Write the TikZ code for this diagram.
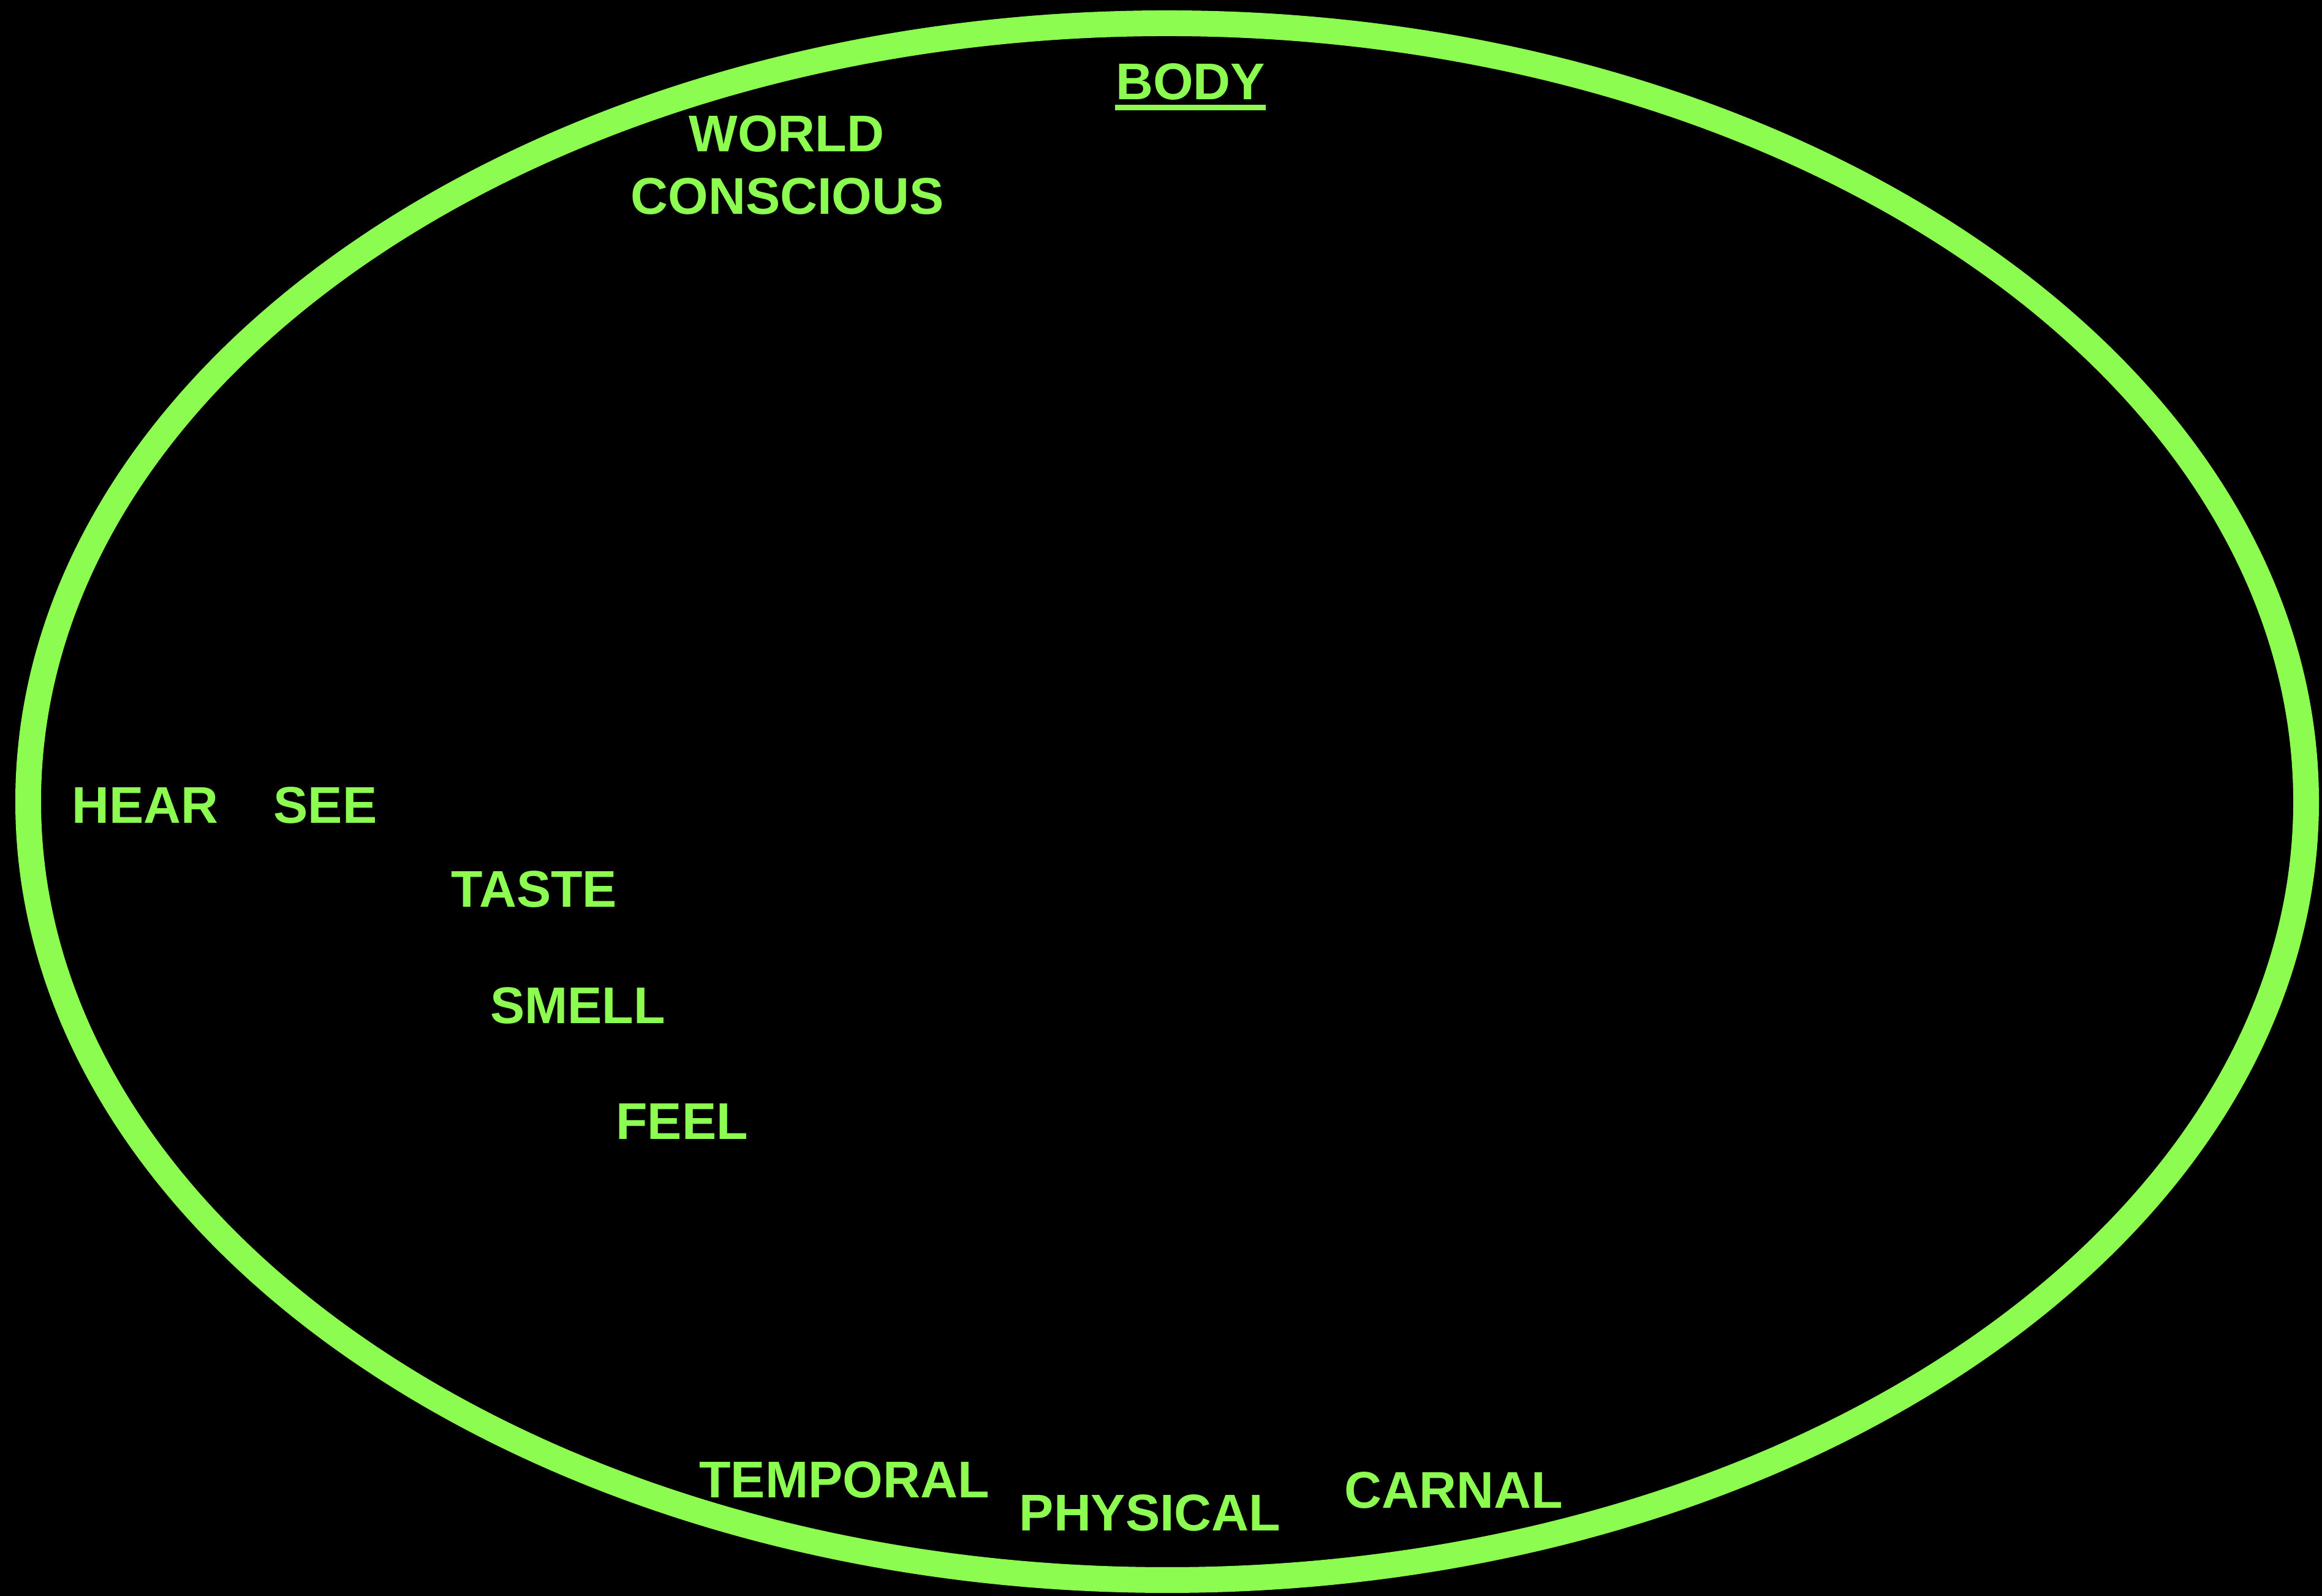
\documentclass[tikz,border=0pt]{standalone}
\usepackage{fontspec}
\setmainfont{Liberation Sans}
\definecolor{lime}{RGB}{140,252,80}
\begin{document}
\begin{tikzpicture}[lbl/.style={text=lime,inner sep=0pt,anchor=base,font=\fontsize{24}{29}\selectfont\bfseries}]
  \fill[black] (0,0) rectangle (37.9,26.05);
  \draw[lime,line width=0.42cm] (19.05,12.965) ellipse [x radius=18.59,y radius=12.705];
  \node[lbl] (body) at (19.43,24.42) {BODY};
  \draw[lime,line width=0.09cm] ([yshift=-0.125cm]body.base west) -- ([yshift=-0.125cm]body.base east);
  \node[lbl] (world) at (12.84,23.57) {WORLD};
  \node[lbl] (conscious) at (12.85,22.55) {CONSCIOUS};
  \node[lbl] (hear) at (2.37,12.61) {HEAR};
  \node[lbl] (see) at (5.31,12.61) {SEE};
  \node[lbl] (taste) at (8.72,11.24) {TASTE};
  \node[lbl] (smell) at (9.43,9.34) {SMELL};
  \node[lbl] (feel) at (11.13,7.45) {FEEL};
  \node[lbl] (temporal) at (13.78,1.60) {TEMPORAL};
  \node[lbl] (physical) at (18.77,1.06) {PHYSICAL};
  \node[lbl] (carnal) at (23.73,1.43) {CARNAL};
\end{tikzpicture}
\end{document}
